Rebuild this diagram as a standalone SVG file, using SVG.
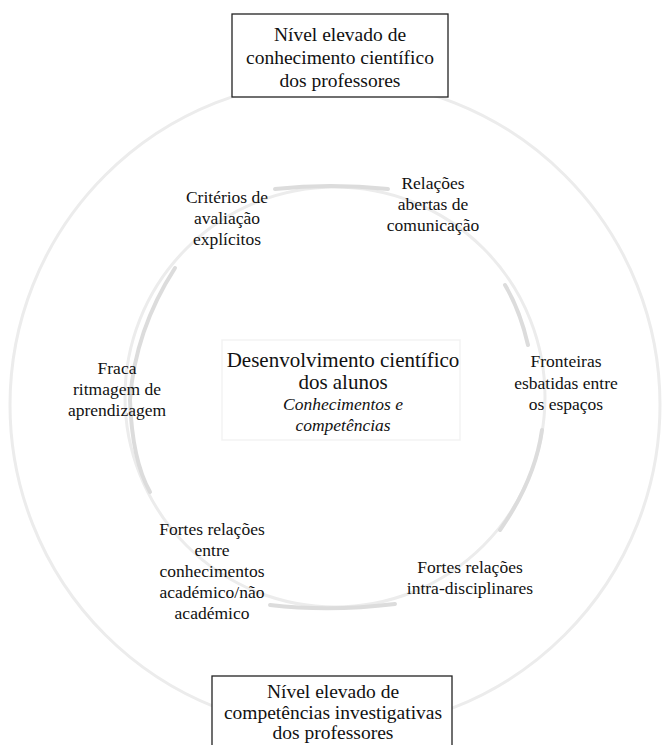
<svg xmlns="http://www.w3.org/2000/svg" width="662" height="745" viewBox="0 0 662 745">
  <style>
    .t { font-family: "Liberation Serif", "Times New Roman", serif; fill: #111; text-anchor: middle; }
    .box { fill: #fff; stroke: #222; stroke-width: 1.3; }
    .lbl { font-size: 17.5px; }
    .bx { font-size: 19.5px; }
    .ttl { font-size: 21px; }
    .it { font-size: 17.5px; font-style: italic; }
    .ring { fill: none; stroke: #ececec; stroke-width: 3; }
    .seg { fill: none; stroke: #dcdcdc; stroke-width: 4; stroke-linecap: round; }
  </style>
  <rect width="662" height="745" fill="#fff"/>
  <g id="rings">
    <circle class="ring" cx="335" cy="405" r="325"/>
    <circle class="ring" cx="335" cy="397" r="210" stroke="#f3f3f3"/>
    <path class="seg" d="M 275 189 Q 330 183 388 189"/>
    <path class="seg" d="M 270 605 Q 330 612 395 604"/>
    <path class="seg" d="M 175 268 Q 135 330 130 400 Q 132 460 150 492" stroke="#e6e6e6" stroke-width="3"/>
    <path class="seg" d="M 505 285 Q 520 310 528 345" stroke="#e2e2e2" stroke-width="3"/>
    <path class="seg" d="M 542 430 Q 535 480 500 530" stroke="#e6e6e6" stroke-width="3"/>
    <rect x="222" y="340" width="238" height="100" fill="none" stroke="#f3f3f3" stroke-width="1.5"/>
  </g>
  <g id="connectors"></g>
  <g id="node-top">
    <rect class="box" x="232" y="14" width="216" height="83"/>
    <text class="t bx" x="340" y="41">Nível elevado de</text>
    <text class="t bx" x="340" y="64">conhecimento científico</text>
    <text class="t bx" x="340" y="87">dos professores</text>
  </g>
  <g id="node-criterios">
    <text class="t lbl" x="227" y="203">Critérios de</text>
    <text class="t lbl" x="227" y="224">avaliação</text>
    <text class="t lbl" x="227" y="245">explícitos</text>
  </g>
  <g id="node-relacoes">
    <text class="t lbl" x="433" y="189">Relações</text>
    <text class="t lbl" x="433" y="210">abertas de</text>
    <text class="t lbl" x="433" y="231">comunicação</text>
  </g>
  <g id="node-fraca">
    <text class="t lbl" x="117" y="374">Fraca</text>
    <text class="t lbl" x="117" y="395">ritmagem de</text>
    <text class="t lbl" x="117" y="416">aprendizagem</text>
  </g>
  <g id="node-centro">
    <text class="t ttl" x="343" y="367">Desenvolvimento científico</text>
    <text class="t ttl" x="343" y="389">dos alunos</text>
    <text class="t it" x="343" y="410">Conhecimentos e</text>
    <text class="t it" x="343" y="431">competências</text>
  </g>
  <g id="node-fronteiras">
    <text class="t lbl" x="566" y="367">Fronteiras</text>
    <text class="t lbl" x="566" y="389">esbatidas entre</text>
    <text class="t lbl" x="566" y="410">os espaços</text>
  </g>
  <g id="node-fortes-academico">
    <text class="t lbl" x="212" y="535">Fortes relações</text>
    <text class="t lbl" x="212" y="556">entre</text>
    <text class="t lbl" x="212" y="577">conhecimentos</text>
    <text class="t lbl" x="212" y="598">académico/não</text>
    <text class="t lbl" x="212" y="619">académico</text>
  </g>
  <g id="node-fortes-intra">
    <text class="t lbl" x="470" y="573">Fortes relações</text>
    <text class="t lbl" x="470" y="594">intra-disciplinares</text>
  </g>
  <g id="node-bottom">
    <rect class="box" x="212" y="676" width="240" height="80"/>
    <text class="t bx" x="333" y="698">Nível elevado de</text>
    <text class="t bx" x="333" y="719">competências investigativas</text>
    <text class="t bx" x="333" y="739">dos professores</text>
  </g>
</svg>
